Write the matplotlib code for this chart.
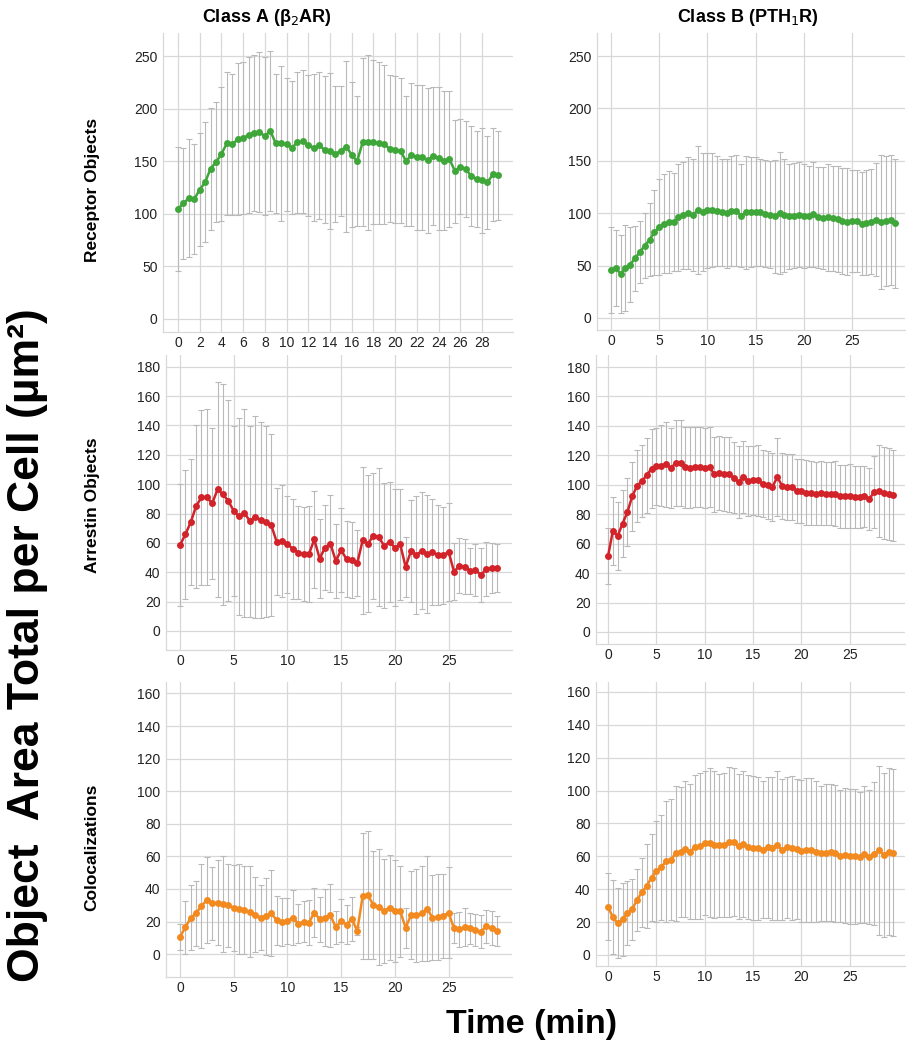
import numpy as np
import matplotlib
matplotlib.use("Agg")
import matplotlib.pyplot as plt

# ---------------- data ----------------
time = [i * 0.5 for i in range(60)]

recA_mean = [104.6,110,115,114,123,130,143,149,157,167, 166,171,172,175,177,177.5,174,179,167,167,
             166,163,168,169,165,163,165,161,160,157, 160,164,156,150,168,168,168,167,166,162,
             161,160,150,156,154,154,151,155,153,150.6, 152,140.7,145,142.6,136,133,132,130,137.5,136.6]
recA_sd = [59,53,56,52,54,57,58,57,64,68, 67,72,72,74,74,76,75,76,66,74,
           63,63,67,68,67,70,70,70,74,65, 62,81,69,62,80,83,78,77,76,70,
           70,69,62,68,69,69,69,66,68,66, 65,49,45,46,48,46,50,44,44,42]

recB_mean = [46,47.6,42,47.6,51,57,63,69,74.6,81.6, 86.7,90,91.5,91.5,96,98,100,98,103,101,
             102.6,103,101.7,100.7,100,102,102.3,97.5,100.7,101, 101.3,100.7,99.4,98.5,97,100,98,97,97.5,98.5,
             97.5,97,98.8,96,95.3,96,95,94.3,92.4,92, 92.4,92.4,90,91,92,93.7,91.5,92.4,93.7,90.2]
recB_sd = [41,36,37.5,41,36,31,30,31,35,40.6, 46,47,49,47,51,51,53.5,53.5,61,56,
           54.5,54.5,52.5,51.5,52,52.5,53,49,53.5,52.7, 52,51,51,51,54,58.5,54,50,50,50,
           49.5,48.5,50,48.5,48.7,51,50.5,50.7,50.8,51, 49,49,49,50,50,54,64,62,62,62]

arrA_mean = [58.4,65.7,74,85,91,91,87,96.4,93,88.6, 81.8,78,80.5,74.8,77.7,75.5,74.3,72,60.7,61.4,
             59,56,53.4,52.7,52.3,62.3,49.3,56.8,59.5,47.7, 55,48.9,48.2,46,61.8,59.5,64.8,64,58,60.7,
             56.8,58.9,43.6,54.5,51.6,54.7,52.3,53.6,51.8,51.4, 54,40.4,44.3,43.8,40.9,41.6,38.2,42,42.7,42.7]
arrA_sd = [41.5,44,43,55.5,59.5,60,51.5,73.5,75.5,68.5, 58,67,71,65,69,67,65,62,36.5,38,
           33,34,31.5,32,32.6,33,27,29,33,25, 28.6,26,25.7,22.5,50,46.5,43,47,42.5,41,
           40,38,20.7,35,40,40,40,36,34,33, 33.4,19.4,18.8,18.7,15.6,17.7,18.6,18.4,17,16.3]

arrB_mean = [51.4,68.6,65.2,73.6,81.3,92.1,99.2,102.6,106.4,111, 112.5,113,113.9,111.4,114.8,114.8,112,111.6,112,112,
             111.4,112,107,108,107.5,107,104.8,101.9,105.3,102.6, 103,103,100.7,100,98.5,105.3,99.2,98.5,98.5,95.8,
             95.5,94.6,94.4,94,94.4,94,94,94,92.1,92.1, 92.4,91.7,91.7,92.1,90.1,95.1,95.8,94.4,94,92.8]
arrB_sd = [19,23,23,23,23,23.5,24.5,24.4,25.5,26.6, 26,27.6,29,27,29,29,27.5,27.5,27.4,27.1,
           27.2,27.1,25.5,24.9,25.1,25.8,24.3,24.5,24.3,23.7, 23.4,24,22.8,23,23.2,26.6,22.6,22.1,22.3,21.5,
           21.8,22.1,21.8,21.2,21.8,21.5,21.3,21.9,21.5,21.5, 21.7,21.3,20.9,21,21,24.5,31.5,31.3,31.3,31]

colA_mean = [10.6,16.4,22.3,25,29.7,33.1,31.1,31.5,30.7,30.1, 28.4,27.6,27,26,24.3,22.5,23.3,25,20.9,19.8,
             20.3,22.5,18.8,19.8,19.4,25.4,21.5,22.5,23.9,16.4, 20.5,18.2,21.5,14.3,35.6,36.2,30.1,29,26.6,28.6,
             26.6,26.4,16.2,23.9,23.9,25,28,22.3,22.9,23.5, 25.4,15.8,15.3,16.8,15.8,15.1,13.7,17.2,15.8,14.3]
colA_sd = [8.2,16.5,20,20,25.6,26.3,22.5,26,29.5,25.4, 26.3,27.6,27,28,22.8,19.8,23.5,26.4,15,14.5,
           14,17,11.9,12.6,14,15,13.8,17.4,19.4,10.1, 13.3,11.7,13.6,2.5,38.6,39.3,33,35.5,32,32,
           31.4,28,12.3,27,28.4,29,32.4,26,26.3,26, 27.8,9.2,10.7,11.5,9.3,9.8,10.2,10.2,10.4,9]

colB_mean = [29.4,22.9,19.3,21.7,25.4,27.8,33.5,38,42,47.1, 50.8,53.4,56.9,57.9,61.9,62.9,64.4,62.9,65.6,66,
             68,68.4,67,66.8,67,68.8,68.6,66,67.6,65.6, 65,64.8,64,65.4,65,66.6,64,65.4,65,64.4,
             63.1,64,64,62.9,61.9,62.3,62.5,61.9,60.3,60.5, 59.9,59.9,59.3,61.3,59.5,61.5,63.6,60.9,62.9,62.3]
colB_sd = [20.3,22.4,21.3,22.2,19.5,18.6,18.8,21,25.7,26.2, 30.5,32,37,36.8,41,39.5,41.4,41.3,44,44.4,
           43.8,45,44.6,43.4,43.6,45.5,45,44.2,44.2,44, 43.8,43.5,41.5,43,43.5,45.5,43,43,43.6,42.8,
           43.3,43.8,43.8,42.6,41,41.6,41.6,41.6,40.3,41.3, 41.1,41.1,40.1,41.6,40.8,43.4,51.5,50,50.7,50.5]

col_titles = ["Class A (β$_2$AR)", "Class B (PTH$_1$R)"]
row_titles = ["Receptor Objects", "Arrestin Objects", "Colocalizations"]
ylabel = "Object  Area Total per Cell (µm²)"
xlabel = "Time (min)"

yticks_rows = [[0, 50, 100, 150, 200, 250], list(range(0, 181, 20)), list(range(0, 161, 20))]
xticks_TL = list(range(0, 29, 2))
xticks_other = [0, 5, 10, 15, 20, 25]

# ---------------- style ----------------
plt.rcParams['font.family'] = ['Liberation Sans', 'DejaVu Sans']
GREEN = "#3fa73a"
RED = "#d2232a"
ORANGE = "#f28a1f"
ERR = "#b9b9b9"
GRID = "#d8d8d8"

fig = plt.figure(figsize=(9.07, 10.5), dpi=100)
W, H = 907, 1050

def px_axes(l, r, t, b):
    return fig.add_axes([l / W, 1 - b / H, (r - l) / W, (b - t) / H])

# pixel boxes (left, right, top, bottom) and limits
boxes = [
    [(163, 513, 33, 332), (597, 905, 33, 330)],
    [(166, 512, 355, 650), (596, 905, 355, 644)],
    [(166, 512, 682, 977), (596, 905, 682, 966)],
]
xlims = [[(-1.38, 30.85), (-1.45, 30.5)],
         [(-1.3, 30.9), (-1.24, 30.7)],
         [(-1.3, 30.9), (-1.24, 30.7)]]
ylims = [[(-12.4, 272), (-11.5, 272)],
         [(-13, 188), (-8.2, 188.2)],
         [(-14, 167), (-6.7, 166)]]

series = [
    [(recA_mean, recA_sd, GREEN), (recB_mean, recB_sd, GREEN)],
    [(arrA_mean, arrA_sd, RED), (arrB_mean, arrB_sd, RED)],
    [(colA_mean, colA_sd, ORANGE), (colB_mean, colB_sd, ORANGE)],
]

for r in range(3):
    for c in range(2):
        ax = px_axes(*boxes[r][c])
        mean, sd, color = series[r][c]
        ax.errorbar(time, mean, yerr=sd, fmt='none', ecolor=ERR, elinewidth=0.8,
                    capsize=2.4, capthick=0.8, zorder=2)
        ax.plot(time, mean, '-o', color=color, lw=1.8, ms=5, mew=0, zorder=3)
        ax.set_xlim(*xlims[r][c])
        ax.set_ylim(*ylims[r][c])
        ax.set_yticks(yticks_rows[r])
        if r == 0 and c == 0:
            ax.set_xticks(xticks_TL)
        else:
            ax.set_xticks(xticks_other)
        ax.grid(True, color=GRID, lw=0.9)
        ax.set_axisbelow(True)
        for s in ['top', 'right']:
            ax.spines[s].set_visible(False)
        for s in ['left', 'bottom']:
            ax.spines[s].set_color(GRID)
            ax.spines[s].set_linewidth(0.9)
        ax.tick_params(length=0, labelsize=10, colors='#222222', pad=4)
        ax.tick_params(axis='x', pad=3)

narrow = ['Liberation Sans Narrow', 'Liberation Sans', 'DejaVu Sans']
fig.text(267 / W, 1 - 18 / H, col_titles[0], ha='center', va='center', fontsize=13,
         fontweight='bold', family=narrow)
fig.text(748 / W, 1 - 18 / H, col_titles[1], ha='center', va='center', fontsize=13,
         fontweight='bold', family=narrow)

row_y = [190, 505, 847]
for name, y in zip(row_titles, row_y):
    fig.text(92 / W, 1 - y / H, name, ha='center', va='center', rotation=90, fontsize=12.5,
             fontweight='bold', family=narrow)

fig.text(28 / W, 1 - 645 / H, ylabel, ha='center', va='center', rotation=90, fontsize=32,
         fontweight='bold')
fig.text(532 / W, 1 - 1025 / H, xlabel, ha='center', va='center', fontsize=24.5,
         fontweight='bold')

fig.savefig("out.png", dpi=100)
